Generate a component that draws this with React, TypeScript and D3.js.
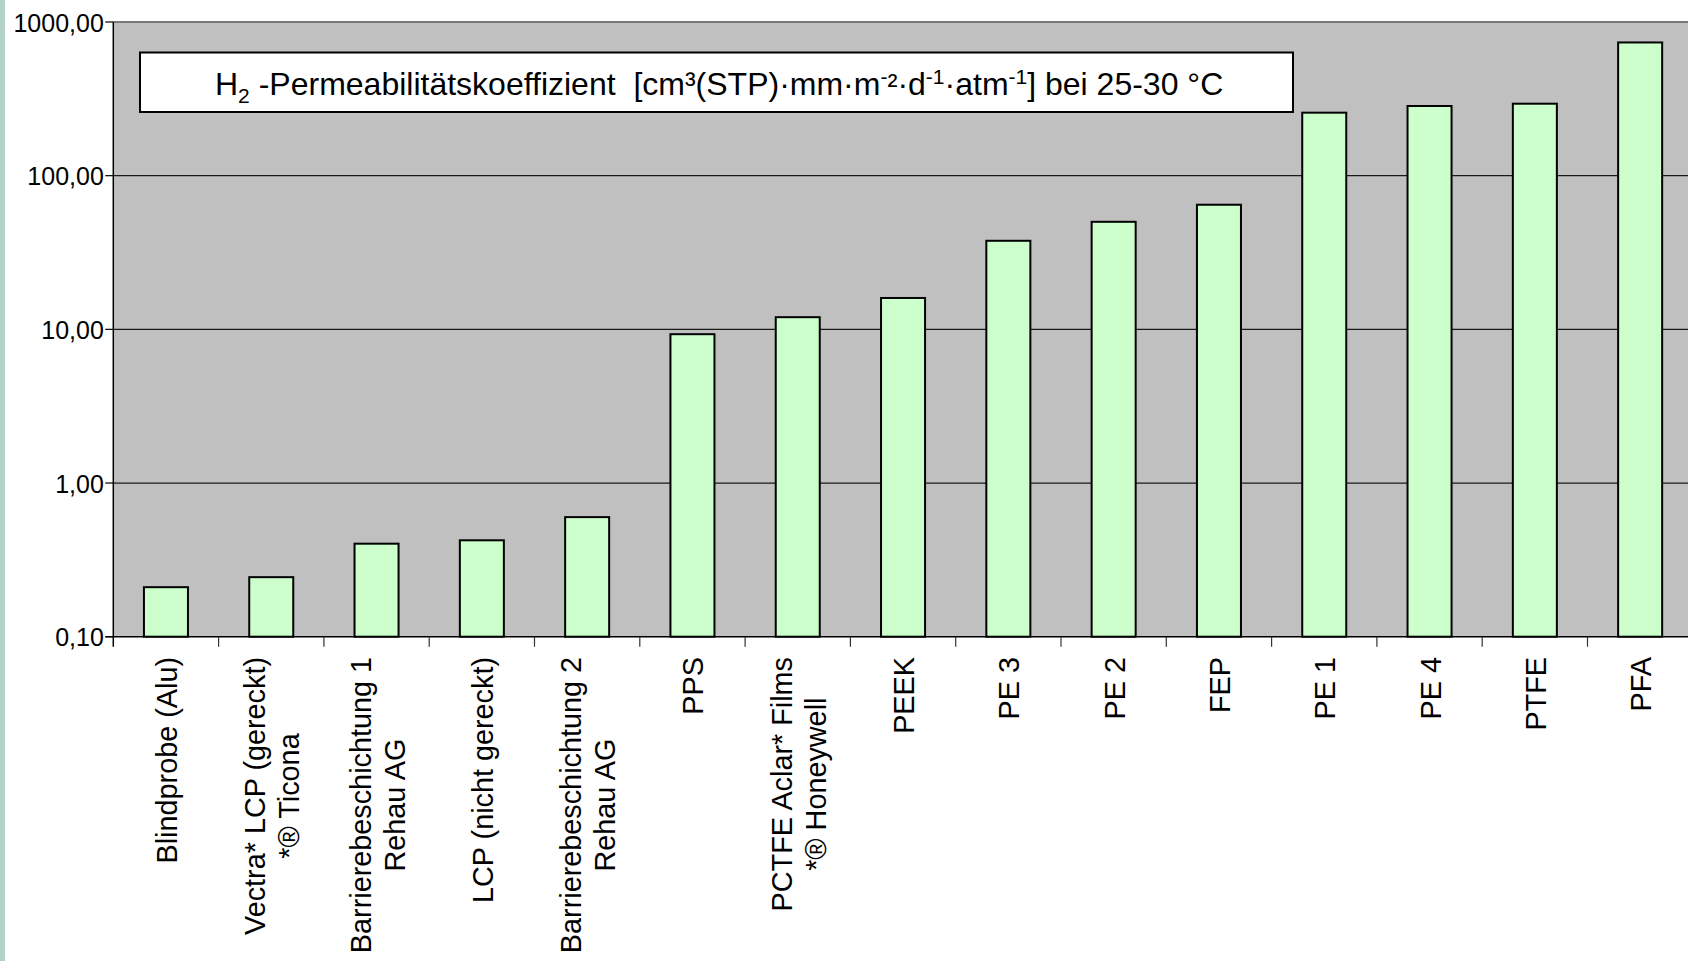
import React, { useEffect, useRef } from 'react';
import * as d3 from 'd3';

const categories: string[] = [
  'Blindprobe (Alu)',
  'Vectra* LCP (gereckt)\n*® Ticona',
  'Barrierebeschichtung 1\nRehau AG',
  'LCP (nicht gereckt)',
  'Barrierebeschichtung 2\nRehau AG',
  'PPS',
  'PCTFE Aclar* Films\n*® Honeywell',
  'PEEK',
  'PE 3',
  'PE 2',
  'FEP',
  'PE 1',
  'PE 4',
  'PTFE',
  'PFA',
];

const values: number[] = [0.21, 0.244, 0.403, 0.424, 0.6, 9.3, 12.0, 16.0, 37.7, 50.1, 64.7, 257, 284, 294, 736];

const yTickValues: number[] = [0.1, 1, 10, 100, 1000];

const FONT = '"Liberation Sans", Arial, Helvetica, sans-serif';

export default function App() {
  const ref = useRef<SVGSVGElement>(null);

  useEffect(() => {
    const svg = d3.select(ref.current as SVGSVGElement);
    svg.selectAll('*').remove();
    const W = 1688;
    const H = 961;
    const left = 113.3;
    const top = 22;
    const bottom = 636.7;
    const step = 105.3;

    const x = d3
      .scaleBand<string>()
      .domain(categories)
      .range([left, left + step * categories.length])
      .padding(0);
    const y = d3.scaleLog().domain([0.1, 1000]).range([bottom, top]);
    const barW = x.bandwidth() * 0.418;

    svg.append('rect').attr('x', 0).attr('y', 0).attr('width', W).attr('height', H).attr('fill', '#ffffff');
    svg.append('rect').attr('x', 0).attr('y', 0).attr('width', 5).attr('height', H).attr('fill', '#b3d1c6');

    // plot area
    svg
      .append('rect')
      .attr('x', left)
      .attr('y', top)
      .attr('width', W - left)
      .attr('height', bottom - top)
      .attr('fill', '#c0c0c0');

    // gridlines
    svg
      .append('g')
      .selectAll('line')
      .data(yTickValues.filter((v) => v > 0.1 && v < 1000))
      .join('line')
      .attr('x1', left)
      .attr('x2', W)
      .attr('y1', (d) => y(d))
      .attr('y2', (d) => y(d))
      .attr('stroke', '#1a1a1a')
      .attr('stroke-width', 1.2);

    // top border
    svg
      .append('line')
      .attr('x1', left)
      .attr('x2', W)
      .attr('y1', top)
      .attr('y2', top)
      .attr('stroke', '#7a7a7a')
      .attr('stroke-width', 2);

    // bars
    svg
      .append('g')
      .selectAll('rect')
      .data(categories)
      .join('rect')
      .attr('x', (d) => (x(d) as number) + x.bandwidth() / 2 - barW / 2)
      .attr('y', (d, i) => y(values[i]))
      .attr('width', barW)
      .attr('height', (d, i) => bottom - y(values[i]))
      .attr('fill', '#ccffcc')
      .attr('stroke', '#000')
      .attr('stroke-width', 2);

    // axes
    svg
      .append('line')
      .attr('x1', left)
      .attr('x2', left)
      .attr('y1', top)
      .attr('y2', bottom + 10)
      .attr('stroke', '#000')
      .attr('stroke-width', 1.5);
    svg
      .append('line')
      .attr('x1', left - 8)
      .attr('x2', W)
      .attr('y1', bottom)
      .attr('y2', bottom)
      .attr('stroke', '#000')
      .attr('stroke-width', 1.5);

    // y ticks
    const fmt = (v: number) => d3.format('.2f')(v).replace('.', ',');
    const yt = svg.append('g').selectAll('g').data(yTickValues).join('g');
    yt.append('line')
      .attr('x1', left - 8)
      .attr('x2', left)
      .attr('y1', (d) => y(d))
      .attr('y2', (d) => y(d))
      .attr('stroke', '#000')
      .attr('stroke-width', 1.2);
    yt.append('text')
      .attr('x', left - 9.5)
      .attr('y', (d) => y(d) + 9.5)
      .attr('text-anchor', 'end')
      .attr('font-family', FONT)
      .attr('font-size', 25)
      .attr('fill', '#000')
      .text((d) => fmt(d));

    // x category ticks
    svg
      .append('g')
      .selectAll('line')
      .data(categories.slice(1))
      .join('line')
      .attr('x1', (d) => x(d) as number)
      .attr('x2', (d) => x(d) as number)
      .attr('y1', bottom)
      .attr('y2', bottom + 10)
      .attr('stroke', '#333')
      .attr('stroke-width', 1.2);

    // x labels
    const labelTop = 657;
    const lineH = 34;
    const lg = svg.append('g');
    categories.forEach((cat) => {
      const lines = cat.split('\n');
      const cx = (x(cat) as number) + x.bandwidth() / 2;
      const texts = lines.map((ln) =>
        lg
          .append('text')
          .attr('font-family', FONT)
          .attr('font-size', 28.8)
          .attr('fill', '#000')
          .attr('text-anchor', 'middle')
          .text(ln)
      );
      const maxW = d3.max(texts, (t) => (t.node() as SVGTextElement).getComputedTextLength()) || 0;
      const n = lines.length;
      texts.forEach((t, i) => {
        const bx = cx + (i - (n - 1) / 2) * lineH + 11;
        const by = labelTop + maxW / 2;
        t.attr('transform', `translate(${bx},${by}) rotate(-90)`);
      });
    });

    // title box
    svg
      .append('rect')
      .attr('x', 140)
      .attr('y', 52.5)
      .attr('width', 1153)
      .attr('height', 59.5)
      .attr('fill', '#fff')
      .attr('stroke', '#000')
      .attr('stroke-width', 2);

    const title = svg
      .append('text')
      .attr('x', 215)
      .attr('y', 95)
      .attr('font-family', FONT)
      .attr('font-size', 32)
      .attr('fill', '#000')
      .style('white-space', 'pre');
    title.append('tspan').text('H');
    title.append('tspan').attr('font-size', 21).attr('dy', 8).text('2');
    title.append('tspan').attr('dy', -8).text(' -Permeabilitätskoeffizient  [cm³(STP)·mm·m');
    title.append('tspan').attr('font-size', 21).attr('dy', -11).text('-');
    title.append('tspan').attr('font-size', 30).attr('dy', 11).text('²');
    title.append('tspan').text('·d');
    title.append('tspan').attr('font-size', 21).attr('dy', -11).text('-1');
    title.append('tspan').attr('dy', 11).text('·atm');
    title.append('tspan').attr('font-size', 21).attr('dy', -11).text('-1');
    title.append('tspan').attr('dy', 11).text('] bei 25-30 °C');
  }, []);

  return (
    <div style={{ position: 'fixed', left: 0, top: 0 }}>
      <svg ref={ref} width={1688} height={961} />
    </div>
  );
}
